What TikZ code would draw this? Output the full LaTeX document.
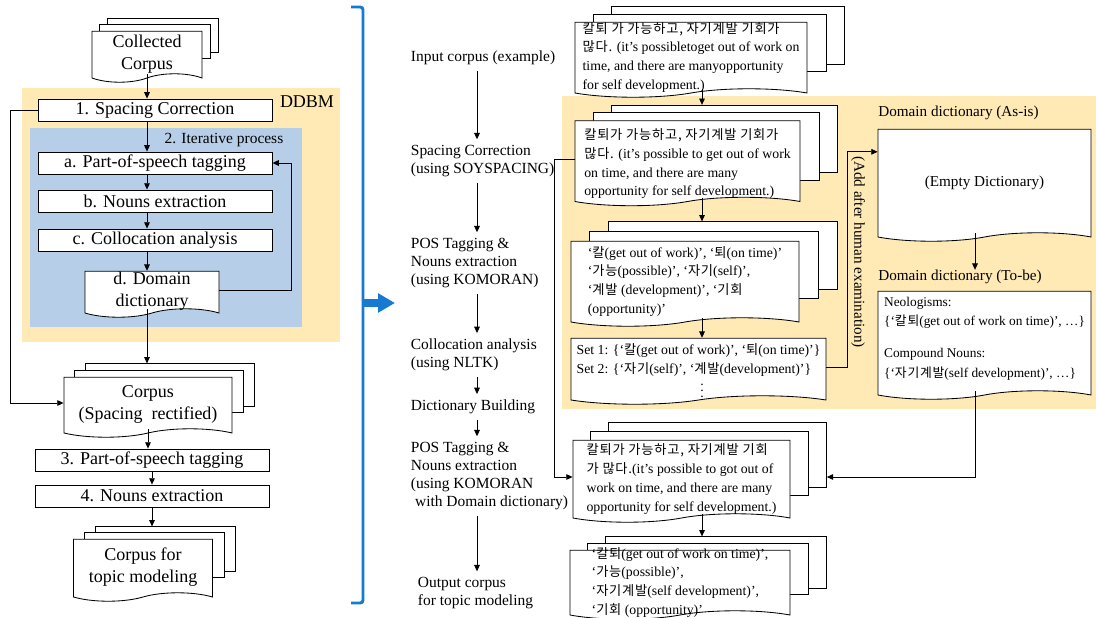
\documentclass[tikz,border=0pt]{standalone}
\usepackage{fontspec}
\setmainfont{Liberation Serif}
\newfontfamily\krfont{Noto Sans CJK KR}[Scale=0.96, LetterSpace=6]
\newcommand{\ko}[1]{{\krfont #1}}
\usetikzlibrary{positioning, arrows.meta, calc, fit, backgrounds, shapes.symbols}

\definecolor{ddbmbg}{RGB}{255,233,181}
\definecolor{iterbg}{RGB}{183,206,232}
\definecolor{bracketblue}{RGB}{22,122,210}

\newcommand{\fsbig}{\fontsize{12.8}{15.6}\selectfont}
\newcommand{\fslab}{\fontsize{11}{12.8}\selectfont}
\newcommand{\fsdoc}{\fontsize{9.8}{13.4}\selectfont}
\newcommand{\fsdict}{\fontsize{10.8}{13}\selectfont}
\newcommand{\fssmall}{\fontsize{9.5}{14}\selectfont}

% text of a document, without height so that the shape keeps its size
\newlength{\doclift}
\setlength{\doclift}{4pt}
\newcommand{\doctext}[2][l]{\raisebox{-\doclift}[0pt][0pt]{\begin{tabular}{@{}#1@{}}#2\end{tabular}}}

% two sheets behind a document node: node name, x offset, y offset
\newcommand{\sheets}[3]{%
  \begin{scope}[on background layer]
    \node[sheet, fit={([shift={(2*#2,-2*#3)}]#1.north west) ([shift={(2*#2,-2*#3-10)}]#1.south east)}] (#1-2) {};
    \node[sheet, fit={([shift={(#2,-#3)}]#1.north west) ([shift={(#2,-#3-10)}]#1.south east)}] (#1-1) {};
  \end{scope}}

\begin{document}
\begin{tikzpicture}[x=0.025cm, y=-0.025cm,
  wh/.style 2 args={minimum width=#1*0.025cm, minimum height=#2*0.025cm},
  stepbox/.style={draw, fill=white, line width=0.6pt, inner sep=0pt, font=\fsbig},
  doc/.style={tape, tape bend top=none, tape bend bottom=in and out,
    tape bend height=6pt, draw, fill=white, line width=0.6pt, inner sep=0pt},
  sheet/.style={draw, fill=white, line width=0.6pt, inner sep=0pt},
  steplabel/.style={font=\fslab, align=left, anchor=west, inner sep=4pt},
  arr/.style={-{Triangle[length=4.5pt, width=4pt]}, line width=0.6pt},
]
\useasboundingbox (0,0) rectangle (1096,617);

%% ── Background panels ────────────────────────────────────────────────
\begin{scope}[on background layer]
  \fill[ddbmbg] (22,88) rectangle (340,342);
  \fill[iterbg] (30,128) rectangle (302,327);
  \fill[ddbmbg] (562,96) rectangle (1096,409);
\end{scope}

%% ── Left: DDBM pipeline ──────────────────────────────────────────────
\node[doc, wh={110}{51}, font=\fsbig] (coll) at (147,52.5) {\doctext[c]{Collected\\Corpus}};
\sheets{coll}{8}{6}
\node[stepbox, wh={234}{22}] (sp1) at (155,110) {1. Spacing Correction};
\node[font=\fsbig] (ddbm) at (307,102) {DDBM};
\node[font=\fslab] (iter) at (224,140) {2. Iterative process};
\node[stepbox, wh={234}{22}] (pos1) at (155,163) {a. Part-of-speech tagging};
\node[stepbox, wh={234}{22}] (noun1) at (155,201) {b. Nouns extraction};
\node[stepbox, wh={234}{22}] (coloc1) at (155,240) {c. Collocation analysis};
\node[doc, wh={134}{46}, font=\fsbig] (dict1) at (152,290) {\doctext[c]{d. Domain\\dictionary}};
\node[doc, wh={168}{60}, font=\fsbig] (corp) at (148,403) {\doctext[c]{Corpus\\(Spacing\ \ rectified)}};
\sheets{corp}{11}{6.5}
\node[stepbox, wh={234}{22}] (pos2) at (152,460) {3. Part-of-speech tagging};
\node[stepbox, wh={234}{22}] (noun2) at (152,496) {4. Nouns extraction};
\node[doc, wh={139}{62}, font=\fsbig] (topic) at (143,566) {\doctext[c]{Corpus for\\topic modeling}};
\sheets{topic}{11}{6}

\draw[arr] (coll.south) -- (coll.south |- sp1.north);
\draw[arr] (coll.south |- sp1.south) -- (coll.south |- pos1.north);
\draw[arr] (coll.south |- pos1.south) -- (coll.south |- noun1.north);
\draw[arr] (coll.south |- noun1.south) -- (coll.south |- coloc1.north);
\draw[arr] (coll.south |- coloc1.south) -- (coll.south |- dict1.north);
\draw[arr] (coll.south |- dict1.south) -- (coll.south |- corp-2.north);
\draw[arr] (dict1.east) -- ++(72,0) |- (pos1.east);
\draw[arr] (sp1.west) -- ++(-27,0) |- (corp.west);
\draw[arr] (corp.south) -- (corp.south |- pos2.north);
\draw[arr] (pos2.south) -- (noun2.north);
\draw[arr] (noun2.south) -- (noun2.south |- topic-2.north);

%% ── Blue bracket ─────────────────────────────────────────────────────
\draw[bracketblue, line width=2.1pt, rounded corners=2pt] (351,7) -- (363,7) -- (363,603) -- (351,603);
\coordinate (brk) at (363,303);
\draw[bracketblue, line width=5.5pt, -{Triangle[length=12pt, width=13pt]}] (brk) -- ++(32,0);

%% ── Middle: step labels ──────────────────────────────────────────────
\coordinate (colx) at (477,0);
\node[steplabel] (in0) at (405,58) {Input corpus (example)};
\node[steplabel] (st1) at (405,161) {Spacing Correction\\(using SOYSPACING)};
\node[steplabel] (st2) at (405,263) {POS Tagging \&\\Nouns extraction\\(using KOMORAN)};
\node[steplabel] (st3) at (405,355) {Collocation analysis\\(using NLTK)};
\node[steplabel] (st4) at (405,407) {Dictionary Building};
\node[steplabel] (st5) at (405,476) {POS Tagging \&\\Nouns extraction\\(using KOMORAN\\\hspace{3pt}with Domain dictionary)};
\node[steplabel] (st6) at (412,593) {Output corpus\\for topic modeling};
\foreach \a/\b in {in0/st1, st1/st2, st2/st3, st3/st4, st4/st5, st5/st6}
  \draw[arr] (\a.south -| colx) -- (\b.north -| colx);

%% ── Right: example documents ─────────────────────────────────────────
\coordinate (rcol) at (702,0);
\node[doc, wh={232}{75}, font=\fsdoc] (inp) at (691,55.5)
  {\doctext{\ko{칼퇴 가 가능하고, 자기계발 기회가}\\\ko{많다.} (it's possibletoget out of work on\\time, and there are manyopportunity\\for self development.)}};
\sheets{inp}{18.5}{7.5}
\node[doc, wh={225}{85}, font=\fsdoc] (spc) at (687.5,159)
  {\setlength{\doclift}{6pt}\doctext{\ko{칼퇴가 가능하고, 자기계발 기회가}\\\ko{많다.} (it's possible to get out of work\\on time, and there are many\\opportunity for self development.)}};
\sheets{spc}{18.5}{7.5}
\node[doc, wh={228}{85}, font=\fsdoc] (tag) at (685,279.5)
  {\doctext{`\ko{칼}(get out of work)', `\ko{퇴}(on time)'\\`\ko{가능}(possible)', `\ko{자기}(self)',\\`\ko{계발} (development)', `\ko{기회}\\(opportunity)'}};
\sheets{tag}{19}{9.5}
\node[doc, wh={255}{66}, font=\fsdoc] (sets) at (698.5,367)
  {\setlength{\doclift}{6pt}\doctext{Set 1: \{`\ko{칼}(get out of work)', `\ko{퇴}(on time)'\}\\Set 2: \{`\ko{자기}(self)', `\ko{계발}(development)'\}\\[-2pt]\hspace*{88pt}$\vdots$}};
\node[doc, wh={217}{82}, font=\fsdoc] (rtag) at (681.5,477)
  {\doctext{\ko{칼퇴가 가능하고, 자기계발 기회}\\\ko{가 많다.}(it's possible to got out of\\work on time, and there are many\\opportunity for self development.)}};
\sheets{rtag}{18}{8.5}
\node[doc, wh={220}{69}, font=\fsdoc] (outc) at (680,580.5)
  {\doctext{`\ko{칼퇴}(get out of work on time)',\\`\ko{가능}(possible)',\\`\ko{자기계발}(self development)',\\`\ko{기회} (opportunity)'}};
\sheets{outc}{18}{6.5}

\draw[arr] (inp.south -| rcol) -- (spc-2.north -| rcol);
\draw[arr] (spc.south -| rcol) -- (tag-2.north -| rcol);
\draw[arr] (tag.south -| rcol) -- (sets.north -| rcol);
\draw[arr] (rtag.south -| rcol) -- (outc-2.north -| rcol);
\draw[arr] (spc.west) -- ++(-20,0) |- (rtag.west);

%% ── Domain dictionary ────────────────────────────────────────────────
\coordinate (dcol) at (975,0);
\node[font=\fsdict, anchor=west, inner sep=0pt] (asislab) at (878,113) {Domain dictionary (As-is)};
\node[doc, wh={213}{112}, font=\fsdict] (asis) at (984.5,181) {\doctext[c]{(Empty Dictionary)}};
\node[font=\fsdict, anchor=west, inner sep=0pt] (tobelab) at (878,277) {Domain dictionary (To-be)};
\node[doc, wh={213}{108}, font=\fssmall] (tobe) at (984.5,341)
  {\setlength{\doclift}{0pt}\doctext{Neologisms:\\\{`\ko{칼퇴}(get out of work on time)', …\}\\[8.5pt]Compound Nouns:\\\{`\ko{자기계발}(self development)', …\}}};

\draw[arr] (sets.east) -- ++(21,0) |- ($(asis.north west)+(0,23)$);
\node[font=\fsdict, rotate=-90] (addlab) at (858,252) {(Add after human examination)};
\draw[arr] (asis.south -| dcol) -- (tobelab.north -| dcol);
\draw[arr] (tobe.south -| dcol) |- (rtag-2.east |- rtag.east);

\end{tikzpicture}
\end{document}
